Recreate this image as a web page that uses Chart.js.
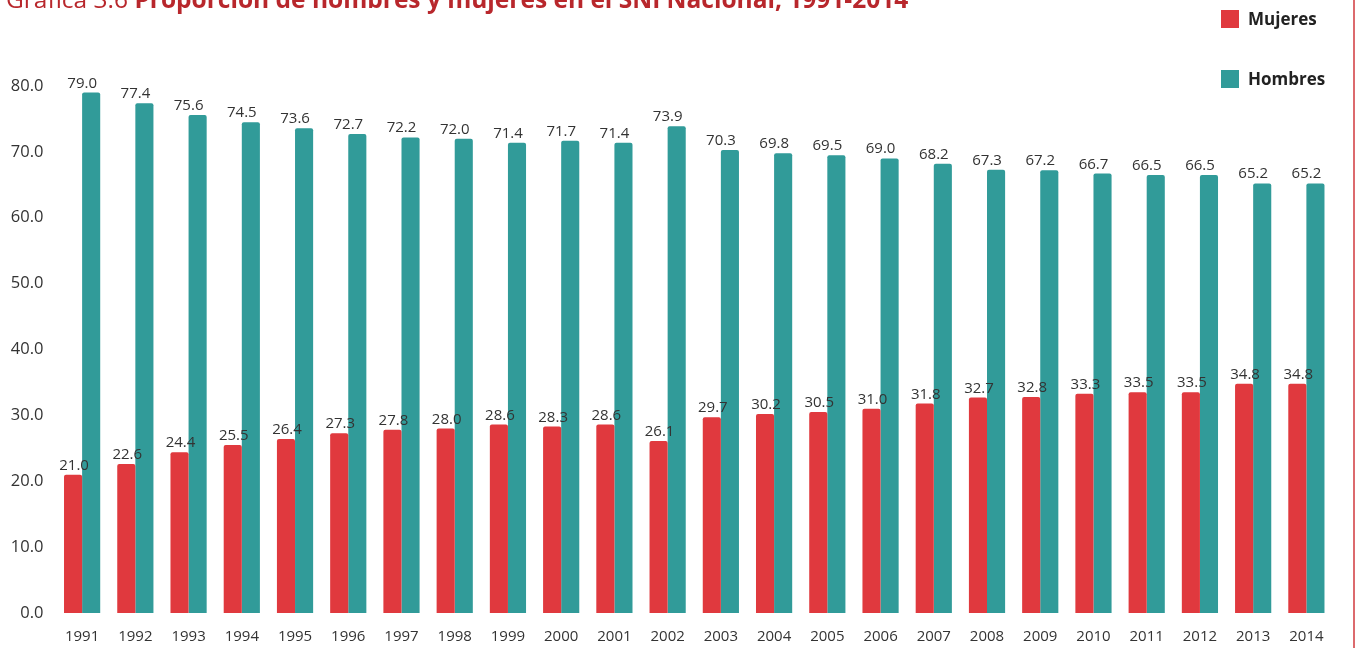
<!DOCTYPE html>
<html>
<head>
<meta charset="utf-8">
<script src="https://cdn.jsdelivr.net/npm/chart.js@4"></script>
<style>
  body { margin: 0; background: #fff; }
  #wrap { position: relative; width: 1365px; height: 648px; }
</style>
</head>
<body>
<div id="wrap"><canvas id="myChart"></canvas></div>
<script>
const years = ['1991','1992','1993','1994','1995','1996','1997','1998','1999','2000','2001','2002',
  '2003','2004','2005','2006','2007','2008','2009','2010','2011','2012','2013','2014'];
const mujeres = [21.0, 22.6, 24.4, 25.5, 26.4, 27.3, 27.8, 28.0, 28.6, 28.3, 28.6, 26.1,
  29.7, 30.2, 30.5, 31.0, 31.8, 32.7, 32.8, 33.3, 33.5, 33.5, 34.8, 34.8];
const hombres = [79.0, 77.4, 75.6, 74.5, 73.6, 72.7, 72.2, 72.0, 71.4, 71.7, 71.4, 73.9,
  70.3, 69.8, 69.5, 69.0, 68.2, 67.3, 67.2, 66.7, 66.5, 66.5, 65.2, 65.2];
const yTicks = [0, 10, 20, 30, 40, 50, 60, 70, 80];

const RED = '#e0393e';
const TEAL = '#319b99';
const FONT = '"Open Sans", "Noto Sans", sans-serif';

const ctx = document.getElementById('myChart').getContext('2d');

// value labels above the bars
const valueLabels = {
  id: 'valueLabels',
  afterDatasetsDraw(chart) {
    const c = chart.ctx;
    c.save();
    c.font = '15px ' + FONT;
    c.fillStyle = '#333';
    c.textAlign = 'center';
    c.textBaseline = 'alphabetic';
    chart.data.datasets.forEach((ds, i) => {
      const meta = chart.getDatasetMeta(i);
      const dx = i === 0 ? 1 : -9;
      meta.data.forEach((bar, j) => {
        c.fillText(ds.data[j].toFixed(1), bar.x + dx, bar.y - 5);
      });
    });
    c.restore();
  }
};

// title (cut at the top), legend and the red frame line
const decor = {
  id: 'decor',
  afterDraw(chart) {
    const c = chart.ctx;
    c.save();
    c.fillStyle = '#b8272c';
    c.textBaseline = 'alphabetic';
    c.textAlign = 'left';
    c.font = '24.5px ' + FONT;
    const pre = 'Gráfica 3.6 ';
    c.fillText(pre, 6, 8);
    const w = c.measureText(pre).width;
    c.font = 'bold 24.5px ' + FONT;
    c.fillText('Proporción de hombres y mujeres en el SNI Nacional, 1991-2014', 6 + w, 8);

    // legend
    const items = chart.data.datasets;
    items.forEach((ds, i) => {
      const y = 10 + i * 60;
      c.fillStyle = ds.backgroundColor;
      c.fillRect(1221, y, 18, 18);
      c.fillStyle = '#222';
      c.font = 'bold 17px ' + FONT;
      c.textBaseline = 'middle';
      c.fillText(ds.label, 1248, y + 10);
    });

    c.strokeStyle = '#d0393d';
    c.lineWidth = 1.5;
    c.beginPath();
    c.moveTo(1354, 0);
    c.lineTo(1354, 648);
    c.stroke();
    c.restore();
  }
};

const data = {
  labels: years,
  datasets: [
    { label: 'Mujeres', data: mujeres, backgroundColor: RED },
    { label: 'Hombres', data: hombres, backgroundColor: TEAL }
  ]
};

const config = {
  type: 'bar',
  data: data,
  options: {
    responsive: true,
    maintainAspectRatio: false,
    animation: false,
    layout: { padding: { top: 86, right: 32, left: 0, bottom: 0 } },
    datasets: {
      bar: {
        categoryPercentage: 0.68,
        barPercentage: 1.0,
        borderRadius: { topLeft: 2, topRight: 2 },
        borderSkipped: 'bottom'
      }
    },
    plugins: {
      legend: { display: false },
      tooltip: { enabled: false }
    },
    scales: {
      x: {
        grid: { display: false },
        border: { display: false },
        ticks: { color: '#333', font: { family: FONT, size: 15 }, padding: 7 },
        afterFit: (scale) => { scale.height = 35; }
      },
      y: {
        min: 0,
        max: 80,
        grid: { display: false },
        border: { display: false },
        afterBuildTicks: (scale) => { scale.ticks = yTicks.map(v => ({ value: v })); },
        ticks: {
          color: '#333',
          font: { family: FONT, size: 16.5 },
          padding: 4,
          callback: (v) => Number(v).toFixed(1)
        },
        afterFit: (scale) => { scale.width = 55.5; }
      }
    }
  },
  plugins: [valueLabels, decor]
};

let myChart = new Chart(ctx, config);
</script>
</body>
</html>
